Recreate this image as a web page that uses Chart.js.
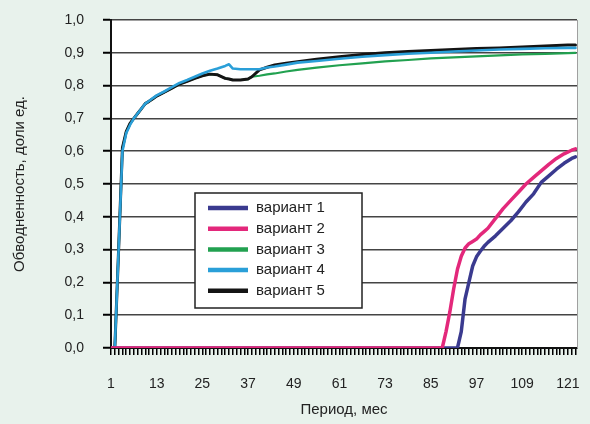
<!DOCTYPE html>
<html>
<head>
<meta charset="utf-8">
<script src="https://cdn.jsdelivr.net/npm/chart.js@4/dist/chart.umd.min.js"></script>
<style>
  body { margin: 0; background: #e8f2ec; }
  #grafico { display: block; }
</style>
</head>
<body>
<canvas id="grafico" width="590" height="424"></canvas>
<script>
// месяцы для верхних кривых (варианты 3, 4, 5)
const mesesTopo = [1,2,3,4,5,6,7,8,9,10,11,12,13,15,17,19,21,23,25,27,29,31,32,33,35,37,38,40,42,44,47,50,55,61,67,73,79,85,91,97,103,109,115,121,123]
const variant5 = [0,0,0.3,0.61,0.66,0.685,0.70,0.715,0.73,0.745,0.752,0.76,0.768,0.78,0.792,0.805,0.813,0.822,0.83,0.835,0.833,0.822,0.82,0.817,0.817,0.82,0.827,0.848,0.856,0.863,0.868,0.873,0.88,0.888,0.895,0.90,0.904,0.907,0.91,0.913,0.915,0.918,0.921,0.924,0.924]
const variant4 = [0,0,0.3,0.6,0.655,0.68,0.70,0.715,0.73,0.745,0.753,0.762,0.77,0.782,0.795,0.808,0.817,0.827,0.837,0.845,0.852,0.86,0.865,0.852,0.85,0.85,0.85,0.85,0.855,0.858,0.864,0.87,0.875,0.882,0.888,0.893,0.897,0.90,0.904,0.907,0.91,0.912,0.914,0.915,0.915]
const variant3 = [0,0,0.3,0.61,0.66,0.685,0.70,0.715,0.73,0.745,0.752,0.76,0.768,0.78,0.792,0.805,0.813,0.822,0.83,0.835,0.833,0.822,0.82,0.817,0.817,0.82,0.827,0.83,0.834,0.837,0.843,0.848,0.855,0.862,0.868,0.874,0.878,0.883,0.886,0.889,0.892,0.895,0.897,0.899,0.90]

// месяцы для нижних кривых (варианты 1, 2)
const mesesBaixo = [1,88,89,90,91,92,93,94,95,96,97,98,99,100,102,104,106,108,110,112,114,116,118,120,122,123]
const variant2 = [0,0,0.05,0.11,0.18,0.24,0.28,0.305,0.318,0.325,0.332,0.345,0.355,0.365,0.395,0.425,0.45,0.475,0.50,0.52,0.54,0.56,0.578,0.592,0.603,0.607]
const variant1 = [0,0,0,0,0,0,0.05,0.15,0.2,0.25,0.278,0.295,0.31,0.322,0.342,0.365,0.388,0.415,0.445,0.47,0.505,0.525,0.545,0.563,0.578,0.583]

const nomesVariantes = ['вариант 1','вариант 2','вариант 3','вариант 4','вариант 5']
const coresVariantes = ['#3a3a8f','#e3287b','#22a150','#2a9fd8','#141414']
const xTickLabels = [1,13,25,37,49,61,73,85,97,109,121]
const yTicks = [0,0.1,0.2,0.3,0.4,0.5,0.6,0.7,0.8,0.9,1.0]
const ultimoMes = 123

function pontos(meses, valores) {
    let arr = []
    for(let i=0;i<meses.length;i++) {
        arr.push({x: meses[i], y: valores[i]})
    }
    return arr
}

const fonte = "'Liberation Sans', Arial, sans-serif"

// fundo + area branca do grafico
const fundoPlugin = {
    id: 'fundo',
    beforeDraw(chart) {
        const ctx = chart.ctx
        const a = chart.chartArea
        ctx.save()
        ctx.fillStyle = '#e8f2ec'
        ctx.fillRect(0, 0, chart.width, chart.height)
        ctx.fillStyle = '#ffffff'
        ctx.fillRect(a.left, a.top, a.right - a.left, a.bottom - a.top)
        ctx.restore()
    },
    beforeDatasetsDraw(chart) {
        const ctx = chart.ctx
        const a = chart.chartArea
        ctx.save()
        ctx.strokeStyle = '#a0a0a0'
        ctx.lineWidth = 1
        ctx.beginPath()
        ctx.moveTo(a.right + 0.5, a.top)
        ctx.lineTo(a.right + 0.5, a.bottom)
        ctx.stroke()
        ctx.restore()
    }
}

// legenda dentro da area do grafico
const legendaPlugin = {
    id: 'legendaInterna',
    afterDatasetsDraw(chart) {
        const ctx = chart.ctx
        const a = chart.chartArea
        const x0 = a.left + 84
        const y0 = a.top + 173
        const w = 167
        const h = 115
        ctx.save()
        ctx.fillStyle = '#ffffff'
        ctx.fillRect(x0, y0, w, h)
        ctx.strokeStyle = '#222'
        ctx.lineWidth = 1.5
        ctx.strokeRect(x0, y0, w, h)
        ctx.font = '15px ' + fonte
        ctx.textBaseline = 'middle'
        ctx.textAlign = 'left'
        for(let i=0;i<chart.data.datasets.length;i++) {
            const ds = chart.data.datasets[i]
            const yy = y0 + 15 + i * 20.7
            ctx.strokeStyle = ds.borderColor
            ctx.lineWidth = 4.5
            ctx.beginPath()
            ctx.moveTo(x0 + 13, yy)
            ctx.lineTo(x0 + 53, yy)
            ctx.stroke()
            ctx.fillStyle = '#222'
            ctx.fillText(ds.label, x0 + 61, yy)
        }
        ctx.restore()
    }
}

const ctx = document.getElementById('grafico').getContext('2d')
new Chart(ctx, {
    type: 'line',
    data: {
        datasets: [
            { label: nomesVariantes[0], data: pontos(mesesBaixo, variant1), borderColor: coresVariantes[0], borderWidth: 3.5, order: 1 },
            { label: nomesVariantes[1], data: pontos(mesesBaixo, variant2), borderColor: coresVariantes[1], borderWidth: 3.5, order: 0 },
            { label: nomesVariantes[2], data: pontos(mesesTopo, variant3), borderColor: coresVariantes[2], borderWidth: 2.2, order: 4 },
            { label: nomesVariantes[3], data: pontos(mesesTopo, variant4), borderColor: coresVariantes[3], borderWidth: 2.6, order: 2 },
            { label: nomesVariantes[4], data: pontos(mesesTopo, variant5), borderColor: coresVariantes[4], borderWidth: 3, order: 3 }
        ]
    },
    options: {
        responsive: false,
        animation: false,
        layout: { padding: { top: 20, right: 13, left: 0, bottom: 0 } },
        elements: {
            point: { radius: 0 },
            line: { tension: 0, borderJoinStyle: 'round', borderCapStyle: 'round' }
        },
        scales: {
            x: {
                type: 'linear',
                min: 1,
                max: 123.4,
                afterBuildTicks(scale) {
                    let t = []
                    for(let m=1;m<=ultimoMes;m++) t.push({value: m})
                    scale.ticks = t
                },
                afterFit(scale) {
                    scale.height = 76
                    scale.paddingLeft = 0
                    scale.paddingRight = 0
                },
                ticks: {
                    autoSkip: false,
                    maxRotation: 0,
                    padding: 21,
                    color: '#222',
                    font: { family: fonte, size: 14 },
                    callback: (v) => xTickLabels.includes(v) ? String(v) : ''
                },
                grid: {
                    display: true,
                    drawOnChartArea: false,
                    drawTicks: true,
                    tickLength: 7,
                    color: '#000',
                    tickColor: '#000',
                    tickWidth: 1.5,
                    lineWidth: 1.5
                },
                border: { display: true, color: '#111', width: 2 },
                title: {
                    display: true,
                    text: 'Период, мес',
                    color: '#222',
                    font: { family: fonte, size: 15 },
                    padding: { top: 0, bottom: 5 }
                }
            },
            y: {
                min: 0,
                max: 1,
                afterBuildTicks(scale) {
                    scale.ticks = yTicks.map(v => ({value: v}))
                },
                afterFit(scale) {
                    scale.width = 111
                    scale.paddingTop = 0
                    scale.paddingBottom = 0
                },
                ticks: {
                    padding: 19,
                    color: '#222',
                    font: { family: fonte, size: 14 },
                    callback: (v) => v.toFixed(1).replace('.', ',')
                },
                grid: {
                    color: '#444',
                    lineWidth: 1.5,
                    tickLength: 8,
                    tickColor: '#000',
                    tickWidth: 2
                },
                border: { display: true, color: '#111', width: 2 },
                title: {
                    display: true,
                    text: 'Обводненность, доли ед.',
                    color: '#222',
                    font: { family: fonte, size: 15 },
                    padding: { top: 11, bottom: 0 }
                }
            }
        },
        plugins: {
            legend: { display: false },
            tooltip: { enabled: false }
        }
    },
    plugins: [fundoPlugin, legendaPlugin]
})
</script>
</body>
</html>
